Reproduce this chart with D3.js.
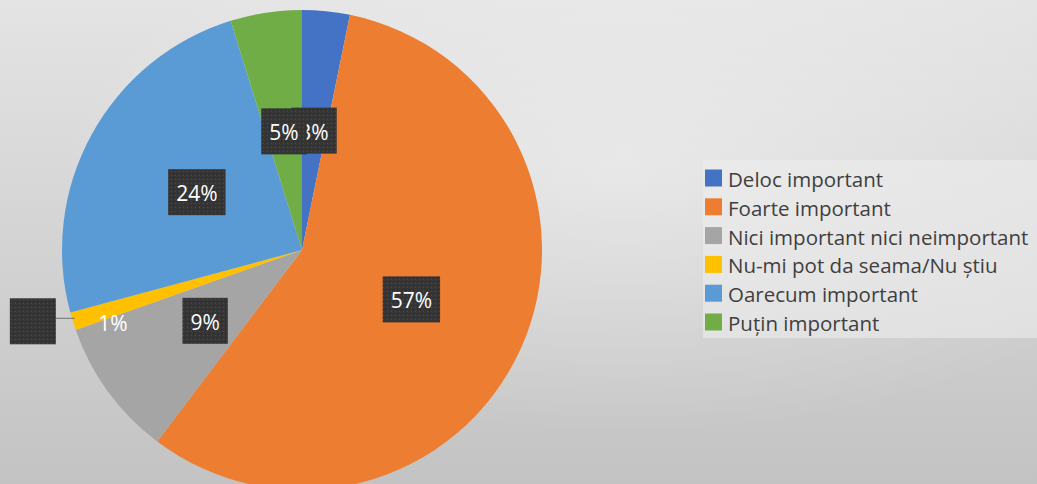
<!DOCTYPE html>
<html>
<head>
<meta charset="utf-8">
<script src="https://cdn.jsdelivr.net/npm/d3@7"></script>
<style>
  html, body { margin: 0; padding: 0; background: #d8d8d8; }
  svg { display: block; }
</style>
</head>
<body>
<svg id="chart" width="1037" height="484"></svg>
<script>
// ---- data ----
const categories = [
  "Deloc important",
  "Foarte important",
  "Nici important nici neimportant",
  "Nu-mi pot da seama/Nu știu",
  "Oarecum important",
  "Puțin important"
];
const values = [3.2, 57.1, 9.3, 1.2, 24.4, 4.8];
const labels = ["3%", "57%", "9%", "1%", "24%", "5%"];
const colors = ["#4472C4", "#ED7D31", "#A5A5A5", "#FFC000", "#5B9BD5", "#70AD47"];

// ---- layout ----
const W = 1037, H = 484;
const cx = 302, cy = 250, R = 240;
const svg = d3.select("#chart");
const defs = svg.append("defs");

// background gradients
const bg = defs.append("linearGradient").attr("id", "bg").attr("x1", 0).attr("y1", 0).attr("x2", 0).attr("y2", 1);
bg.append("stop").attr("offset", "0%").attr("stop-color", "#e4e4e4");
bg.append("stop").attr("offset", "100%").attr("stop-color", "#c3c3c3");
const rg = defs.append("radialGradient").attr("id", "glow")
  .attr("cx", "60%").attr("cy", "35%").attr("r", "55%");
rg.append("stop").attr("offset", "0%").attr("stop-color", "#ffffff").attr("stop-opacity", 0.4);
rg.append("stop").attr("offset", "100%").attr("stop-color", "#ffffff").attr("stop-opacity", 0);

// dotted pattern for label boxes
const pat = defs.append("pattern").attr("id", "dots").attr("patternUnits", "userSpaceOnUse")
  .attr("width", 4).attr("height", 4);
pat.append("rect").attr("width", 4).attr("height", 4).attr("fill", "#353535");
pat.append("rect").attr("x", 1).attr("y", 1).attr("width", 1).attr("height", 1).attr("fill", "#4a4a4a");
pat.append("rect").attr("x", 3).attr("y", 3).attr("width", 1).attr("height", 1).attr("fill", "#2a2a2a");

svg.append("rect").attr("width", W).attr("height", H).attr("fill", "url(#bg)");
svg.append("rect").attr("width", W).attr("height", H).attr("fill", "url(#glow)");

// ---- pie ----
const pie = d3.pie().sort(null).value(d => d);
const arcs = pie(values);
const arc = d3.arc().innerRadius(0).outerRadius(R);
const labelArc = d3.arc().innerRadius(R * 0.5).outerRadius(R * 0.5);
const edgeArc = d3.arc().innerRadius(R).outerRadius(R);

const g = svg.append("g").attr("transform", `translate(${cx},${cy})`);
g.selectAll("path.slice").data(arcs).enter().append("path")
  .attr("class", "slice")
  .attr("d", arc)
  .attr("fill", (d, i) => colors[i]);

// ---- data labels ----
const fontLbl = "'Open Sans', sans-serif";
const boxH = 46, padX = 8;
const smallIdx = 3; // label pushed outside with leader line

arcs.forEach((d, i) => {
  if (i === smallIdx) {
    const [ex, ey] = edgeArc.centroid(d);
    const bw = 46;
    const bx = ex - 17 - bw;
    g.append("line").attr("x1", bx + bw).attr("y1", ey - 3).attr("x2", ex + 2).attr("y2", ey - 3)
      .attr("stroke", "#6f6f6f").attr("stroke-width", 1);
    g.append("rect").attr("x", bx).attr("y", ey - boxH / 2).attr("width", bw).attr("height", boxH)
      .attr("fill", "url(#dots)");
    g.append("text").attr("x", ex + 40).attr("y", ey + 2)
      .attr("text-anchor", "middle").attr("dominant-baseline", "central")
      .attr("font-family", fontLbl).attr("font-size", 21).attr("fill", "#ffffff")
      .text(labels[i]);
    return;
  }
  const [lx, ly] = labelArc.centroid(d);
  const t = g.append("text").attr("x", lx).attr("y", ly + 1)
    .attr("text-anchor", "middle").attr("dominant-baseline", "central")
    .attr("font-family", fontLbl).attr("font-size", 21).attr("fill", "#ffffff")
    .text(labels[i]);
  const tw = t.node().getComputedTextLength();
  const bw = tw + padX * 2;
  g.insert("rect", () => t.node()).attr("x", lx - bw / 2).attr("y", ly - boxH / 2)
    .attr("width", bw).attr("height", boxH).attr("fill", "url(#dots)");
});

// ---- legend ----
const legend = svg.append("g");
legend.append("rect").attr("x", 703).attr("y", 160).attr("width", 340).attr("height", 178)
  .attr("fill", "#ededed").attr("opacity", 0.6);
const ly = d3.scalePoint().domain(categories).range([178, 322]);
const rows = legend.selectAll("g.row").data(categories).enter().append("g").attr("class", "row")
  .attr("transform", d => `translate(705,${ly(d)})`);
rows.append("rect").attr("x", 0).attr("y", -8.5).attr("width", 17).attr("height", 17)
  .attr("fill", (d, i) => colors[i]);
rows.append("text").attr("x", 23).attr("y", 1).attr("dominant-baseline", "central")
  .attr("font-family", "'Open Sans', sans-serif").attr("font-size", 20.5).attr("fill", "#3f3f3f")
  .text(d => d);
</script>
</body>
</html>
